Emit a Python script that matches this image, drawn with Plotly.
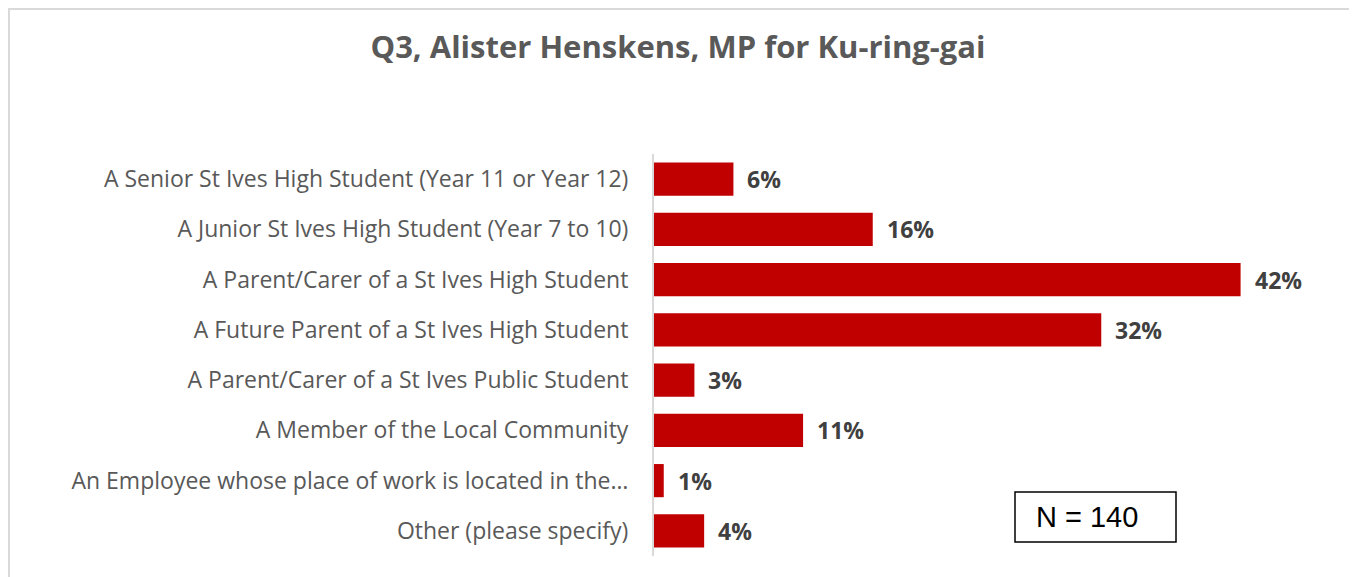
import plotly.graph_objects as go

categories = [
    "A Senior St Ives High Student (Year 11 or Year 12)",
    "A Junior St Ives High Student (Year 7 to 10)",
    "A Parent/Carer of a St Ives High Student",
    "A Future Parent of a St Ives High Student",
    "A Parent/Carer of a St Ives Public Student",
    "A Member of the Local Community",
    "An Employee whose place of work is located in the…",
    "Other (please specify)",
]
values = [5.7, 15.7, 42.1, 32.1, 2.9, 10.7, 0.7, 3.6]
value_labels = ["6%", "16%", "42%", "32%", "3%", "11%", "1%", "4%"]
title_text = "Q3, Alister Henskens, MP for Ku-ring-gai"
n_text = "N = 140"

# page offset of 8px from the default body margin
OFF = 8
W, H = 1357 - OFF, 577 - OFF
PL, PR = 654 - OFF, 1281 - OFF      # plot area x (figure coords)
PT, PB = 154 - OFF, 556 - OFF       # plot area y (figure coords)
PW, PH = PR - PL, PB - PT


def px(x):
    return (x - OFF - PL) / PW


def py(y):
    return (PB - (y - OFF)) / PH


fig = go.Figure()
fig.add_trace(go.Bar(
    y=categories, x=values, orientation="h",
    marker=dict(color="#C00000", line=dict(width=0)),
    width=0.66, hoverinfo="skip",
))

for c, v, t in zip(categories, values, value_labels):
    fig.add_annotation(x=v, y=c, xref="x", yref="y", text="<b>" + t + "</b>",
                       showarrow=False, xanchor="left", xshift=12,
                       font=dict(family="Open Sans", size=23, color="#404040"))

fig.update_layout(
    width=W, height=H,
    margin=dict(l=PL, r=W - PR, t=PT, b=H - PB),
    paper_bgcolor="white", plot_bgcolor="white",
    showlegend=False,
    title=dict(text="<b>" + title_text + "</b>", x=(678 - OFF) / W, xref="container", xanchor="center",
               y=1 - (47 - OFF) / H, yref="container", yanchor="middle",
               font=dict(family="Open Sans", size=31, color="#595959")),
    xaxis=dict(range=[0, 45], visible=False, fixedrange=True),
    yaxis=dict(autorange="reversed", showline=True, linecolor="#d9d9d9", linewidth=2,
               ticks="", ticklabelstandoff=19, showgrid=False,
               tickfont=dict(family="Open Sans", size=23, color="#595959")),
)

# N box
fig.add_shape(type="rect", xref="paper", yref="paper",
              x0=px(1015), x1=px(1176), y0=py(542), y1=py(492),
              line=dict(color="black", width=1.5), fillcolor="white")
fig.add_annotation(xref="paper", yref="paper", x=px(1087), y=py(517),
                   text=n_text, showarrow=False, xanchor="center", yanchor="middle",
                   font=dict(family="Liberation Sans", size=29, color="black"))

# outer chart border (clamped to the visible figure area)
fig.add_shape(type="rect", xref="paper", yref="paper",
              x0=px(OFF + 1), x1=px(1350), y0=py(600), y1=py(OFF + 1),
              line=dict(color="#d9d9d9", width=2), fillcolor="rgba(0,0,0,0)")

fig.write_html("out.html")
